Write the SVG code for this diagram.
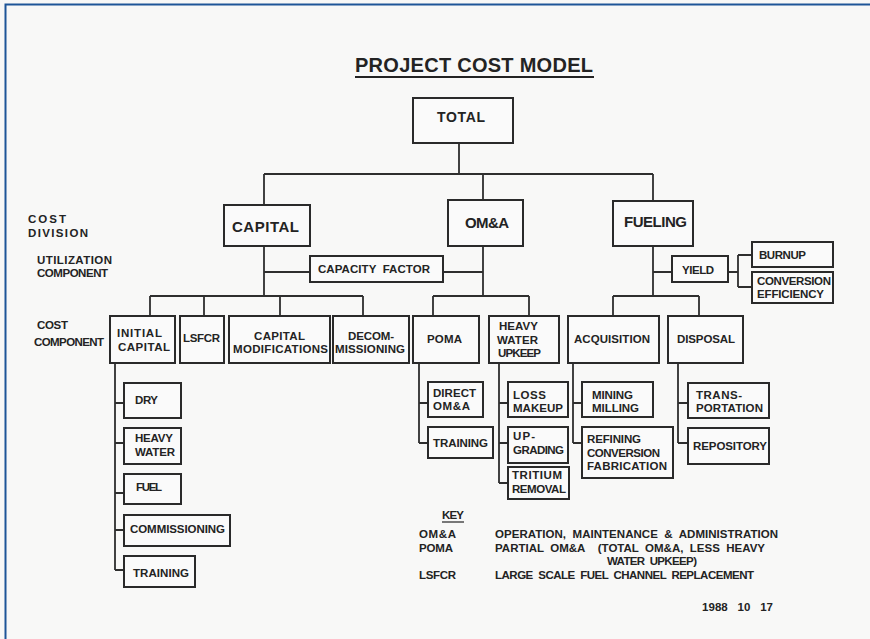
<svg xmlns="http://www.w3.org/2000/svg" width="870" height="639" viewBox="0 0 870 639">
<style>
.bg{fill:#f8f8f7}
.frame{stroke:#1e5598;stroke-width:2;fill:none}
.box{fill:#fafafa;stroke:#2a2a2a;stroke-width:2}
.con{stroke:#2e2e2e;stroke-width:1.8;fill:none}
text{font-family:"Liberation Sans",Arial,Helvetica,sans-serif;font-weight:bold;fill:#232323}
.s{font-size:11.5px}
.b{font-size:15px}
.m{font-size:14px}
.title{font-size:20px}
.ul{stroke:#232323;stroke-width:2}
.ulk{stroke:#232323;stroke-width:1.2}
</style>
<rect class="bg" x="0" y="0" width="870" height="639"/>
<path class="frame" d="M5.5,639 V4.5 H870"/>

<g id="title">
<text class="title" x="355" y="72" textLength="238">PROJECT COST MODEL</text>
<line class="ul" x1="355" y1="77" x2="594" y2="77"/>
</g>

<g id="labels">
<text class="s" x="28" y="223" textLength="38">COST</text>
<text class="s" x="28" y="237" textLength="60">DIVISION</text>
<text class="s" x="37" y="264" textLength="75">UTILIZATION</text>
<text class="s" x="37" y="277" textLength="71">COMPONENT</text>
<text class="s" x="37" y="329" textLength="31">COST</text>
<text class="s" x="34" y="346" textLength="70">COMPONENT</text>
</g>

<g id="connectors">
<path class="con" d="M459,143 V174 M264,174 H653 M264,174 V205 M483,174 V200 M653,174 V201"/>
<path class="con" d="M264,246 V296 M264,272 H310 M443,272 H483 M483,246 V296 M653,246 V296 M653,272 H672"/>
<path class="con" d="M728,272 H738 M738,255 V287 M738,255 H752 M738,287 H752"/>
<path class="con" d="M150,296 H363 M150,296 V316 M204,296 V316 M280,296 V316 M363,296 V316"/>
<path class="con" d="M433,296 H529 M433,296 V316 M529,296 V316"/>
<path class="con" d="M613,296 H699 M613,296 V316 M699,296 V316"/>
<path class="con" d="M115,363 V570 M115,403 H124 M115,443 H124 M115,493 H124 M115,530 H124 M115,570 H124"/>
<path class="con" d="M419,363 V443 M419,403 H428 M419,443 H428"/>
<path class="con" d="M499,363 V483 M499,403 H508 M499,443 H508 M499,483 H508"/>
<path class="con" d="M573,363 V443 M573,403 H582 M573,443 H582"/>
<path class="con" d="M678,363 V443 M678,403 H688 M678,443 H688"/>
</g>

<g id="total"><rect class="box" x="413" y="98" width="100" height="45"/><text class="m" x="437" y="122" textLength="48">TOTAL</text></g>
<g id="capital"><rect class="box" x="224" y="205" width="86" height="41"/><text class="b" x="232" y="232" textLength="67">CAPITAL</text></g>
<g id="oma"><rect class="box" x="448" y="200" width="75" height="46"/><text class="b" x="465" y="228" textLength="44">OM&amp;A</text></g>
<g id="fueling"><rect class="box" x="613" y="201" width="80" height="45"/><text class="b" x="624" y="227" textLength="63">FUELING</text></g>
<g id="capacity-factor"><rect class="box" x="310" y="256" width="133" height="26"/><text class="s" x="318" y="273" textLength="112" xml:space="preserve">CAPACITY  FACTOR</text></g>
<g id="yield"><rect class="box" x="672" y="256" width="56" height="26"/><text class="s" x="682" y="274" textLength="32">YIELD</text></g>
<g id="burnup"><rect class="box" x="752" y="242" width="81" height="25"/><text class="s" x="759" y="259" textLength="47">BURNUP</text></g>
<g id="conversion-efficiency"><rect class="box" x="752" y="272" width="81" height="31"/><text class="s" x="757" y="285" textLength="74">CONVERSION</text><text class="s" x="757" y="298" textLength="67">EFFICIENCY</text></g>

<g id="initial-capital"><rect class="box" x="110" y="316" width="65" height="47"/><text class="s" x="117" y="337" textLength="45">INITIAL</text><text class="s" x="118" y="351" textLength="52">CAPITAL</text></g>
<g id="lsfcr"><rect class="box" x="180" y="316" width="44" height="47"/><text class="s" x="183" y="342" textLength="37">LSFCR</text></g>
<g id="capital-modifications"><rect class="box" x="229" y="316" width="101" height="47"/><text class="s" x="254" y="340" textLength="51">CAPITAL</text><text class="s" x="233" y="353" textLength="95">MODIFICATIONS</text></g>
<g id="decommissioning"><rect class="box" x="333" y="316" width="76" height="47"/><text class="s" x="348" y="340" textLength="46">DECOM-</text><text class="s" x="335" y="353" textLength="70">MISSIONING</text></g>
<g id="poma"><rect class="box" x="413" y="316" width="66" height="47"/><text class="s" x="427" y="343" textLength="35">POMA</text></g>
<g id="heavy-water-upkeep"><rect class="box" x="489" y="316" width="70" height="47"/><text class="s" x="499" y="330" textLength="39">HEAVY</text><text class="s" x="497" y="344" textLength="41">WATER</text><text class="s" x="498" y="357" textLength="43">UPKEEP</text></g>
<g id="acquisition"><rect class="box" x="568" y="316" width="91" height="47"/><text class="s" x="574" y="343" textLength="76">ACQUISITION</text></g>
<g id="disposal"><rect class="box" x="668" y="316" width="75" height="47"/><text class="s" x="677" y="343" textLength="58">DISPOSAL</text></g>

<g id="dry"><rect class="box" x="124" y="383" width="57" height="35"/><text class="s" x="135" y="404" textLength="23">DRY</text></g>
<g id="heavy-water"><rect class="box" x="124" y="428" width="57" height="36"/><text class="s" x="135" y="442" textLength="38">HEAVY</text><text class="s" x="135" y="456" textLength="40">WATER</text></g>
<g id="fuel"><rect class="box" x="124" y="474" width="57" height="30"/><text class="s" x="136" y="491" textLength="26">FUEL</text></g>
<g id="commissioning"><rect class="box" x="124" y="515" width="106" height="31"/><text class="s" x="130" y="533" textLength="95">COMMISSIONING</text></g>
<g id="training-capital"><rect class="box" x="124" y="556" width="71" height="31"/><text class="s" x="133" y="577" textLength="56">TRAINING</text></g>

<g id="direct-oma"><rect class="box" x="428" y="382" width="55" height="35"/><text class="s" x="433" y="397" textLength="43">DIRECT</text><text class="s" x="433" y="410" textLength="37">OM&amp;A</text></g>
<g id="training-poma"><rect class="box" x="428" y="427" width="65" height="31"/><text class="s" x="433" y="447" textLength="55">TRAINING</text></g>

<g id="loss-makeup"><rect class="box" x="508" y="382" width="60" height="35"/><text class="s" x="513" y="399" textLength="33">LOSS</text><text class="s" x="513" y="412" textLength="50">MAKEUP</text></g>
<g id="upgrading"><rect class="box" x="508" y="427" width="60" height="36"/><text class="s" x="513" y="440" textLength="22">UP-</text><text class="s" x="513" y="454" textLength="51">GRADING</text></g>
<g id="tritium-removal"><rect class="box" x="508" y="467" width="61" height="32"/><text class="s" x="512" y="479" textLength="50">TRITIUM</text><text class="s" x="512" y="493" textLength="54">REMOVAL</text></g>

<g id="mining-milling"><rect class="box" x="582" y="382" width="71" height="35"/><text class="s" x="592" y="399" textLength="41">MINING</text><text class="s" x="592" y="412" textLength="47">MILLING</text></g>
<g id="refining"><rect class="box" x="582" y="427" width="91" height="51"/><text class="s" x="587" y="443" textLength="54">REFINING</text><text class="s" x="587" y="457" textLength="73">CONVERSION</text><text class="s" x="587" y="470" textLength="80">FABRICATION</text></g>

<g id="transportation"><rect class="box" x="688" y="383" width="81" height="35"/><text class="s" x="696" y="399" textLength="46">TRANS-</text><text class="s" x="696" y="412" textLength="67">PORTATION</text></g>
<g id="repository"><rect class="box" x="688" y="428" width="81" height="36"/><text class="s" x="693" y="450" textLength="74">REPOSITORY</text></g>

<g id="key">
<text class="s" x="442" y="519" textLength="22">KEY</text>
<line class="ulk" x1="442" y1="522" x2="464" y2="522"/>
<text class="s" x="419" y="538" textLength="37">OM&amp;A</text>
<text class="s" x="495" y="538" textLength="283" xml:space="preserve">OPERATION,  MAINTENANCE  &amp;  ADMINISTRATION</text>
<text class="s" x="419" y="552" textLength="34">POMA</text>
<text class="s" x="495" y="552" textLength="270" xml:space="preserve">PARTIAL  OM&amp;A    (TOTAL  OM&amp;A,  LESS  HEAVY</text>
<text class="s" x="607" y="565" textLength="90" xml:space="preserve">WATER  UPKEEP)</text>
<text class="s" x="419" y="579" textLength="37">LSFCR</text>
<text class="s" x="495" y="579" textLength="259" xml:space="preserve">LARGE  SCALE  FUEL  CHANNEL  REPLACEMENT</text>
<text class="s" x="702" y="611" textLength="71" xml:space="preserve">1988   10   17</text>
</g>
</svg>
